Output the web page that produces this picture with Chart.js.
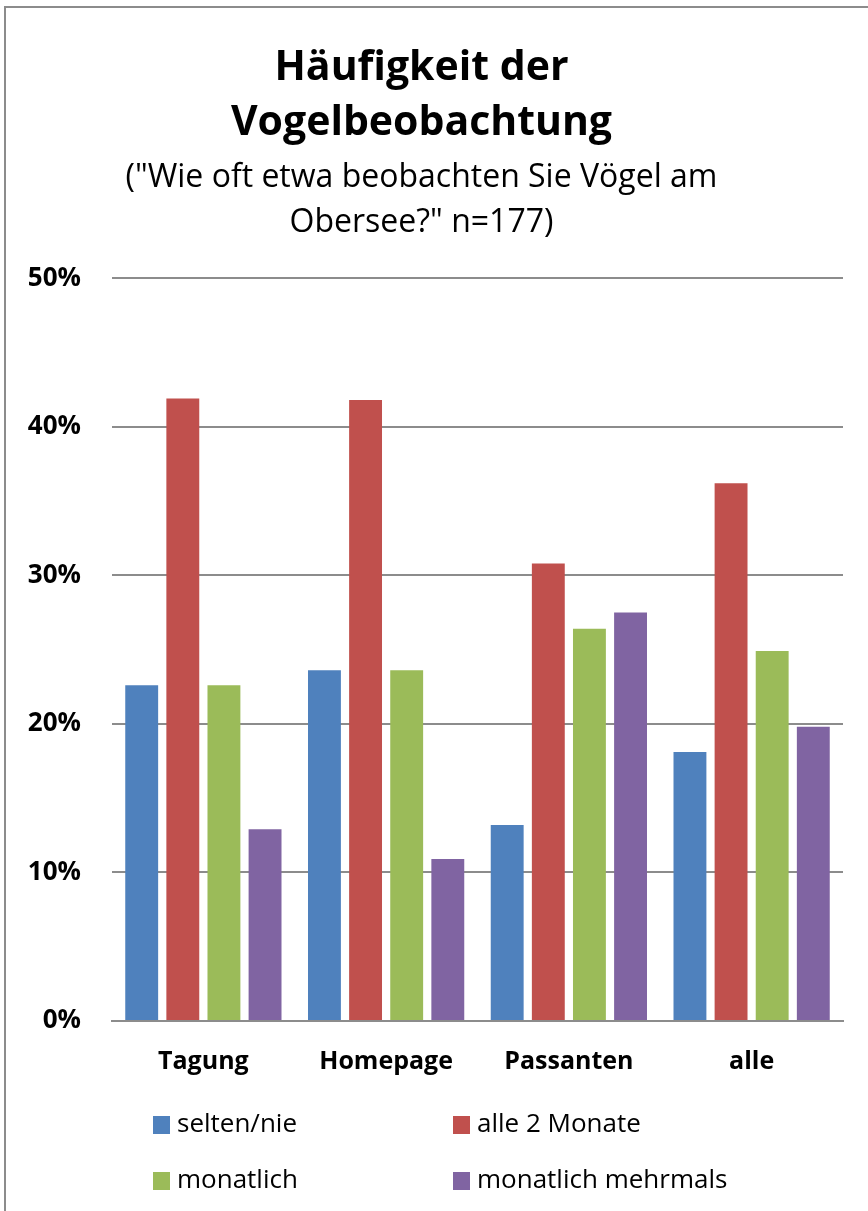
<!DOCTYPE html>
<html>
<head>
<meta charset="utf-8">
<script src="https://cdn.jsdelivr.net/npm/chart.js@4.4.1/dist/chart.umd.min.js"></script>
<style>
  html, body { margin: 0; padding: 0; background: #fff; }
  body { width: 868px; height: 1211px; position: relative; overflow: hidden; }
  .frame { position: absolute; left: 4px; top: 6px; width: 900px; height: 1300px; border: 2px solid #8c8c8c; box-sizing: border-box; }
  #wrap { position: absolute; left: 0; top: 0; width: 868px; height: 1211px; }
</style>
</head>
<body>
<div class="frame"></div>
<div id="wrap"><canvas id="chart" width="868" height="1211"></canvas></div>
<script>
// Survey groups and answer shares (percent of respondents)
const categories = ['Tagung', 'Homepage', 'Passanten', 'alle'];
const seriesNames = ['selten/nie', 'alle 2 Monate', 'monatlich', 'monatlich mehrmals'];
const seltenNie = [22.6, 23.6, 13.2, 18.1];
const alle2Monate = [41.9, 41.8, 30.8, 36.2];
const monatlich = [22.6, 23.6, 26.4, 24.9];
const monatlichMehrmals = [12.9, 10.9, 27.5, 19.8];
const yTicks = [0, 10, 20, 30, 40, 50];
const titleLines = ['Häufigkeit der', 'Vogelbeobachtung'];
const subtitleLines = ['("Wie oft etwa beobachten Sie Vögel am', 'Obersee?" n=177)'];

const colors = ['#4F81BD', '#C0504D', '#9BBB59', '#8064A2'];
const FONT = '"Open Sans", Lato, "DejaVu Sans", sans-serif';

const values = [seltenNie, alle2Monate, monatlich, monatlichMehrmals];

// Two-column legend below the axis labels
const gridLegend = {
  id: 'gridLegend',
  afterDraw(chart) {
    const ctx = chart.ctx;
    const colX = [153, 453];
    const rowY = [1125, 1181];
    ctx.save();
    ctx.font = '26px ' + FONT;
    ctx.textBaseline = 'middle';
    ctx.textAlign = 'left';
    chart.data.datasets.forEach((ds, i) => {
      const x = colX[i % 2];
      const y = rowY[Math.floor(i / 2)];
      ctx.fillStyle = ds.backgroundColor;
      ctx.fillRect(x, y - 9, 17, 18);
      ctx.fillStyle = '#000';
      ctx.fillText(ds.label, x + 24, y);
    });
    ctx.restore();
  }
};

new Chart(document.getElementById('chart'), {
  type: 'bar',
  data: {
    labels: categories,
    datasets: seriesNames.map((name, i) => ({
      label: name,
      data: values[i],
      backgroundColor: colors[i],
      borderWidth: 0,
      categoryPercentage: 0.9,
      barPercentage: 0.8
    }))
  },
  options: {
    responsive: false,
    animation: false,
    layout: { padding: { left: 0, right: 25, top: 0, bottom: 130 } },
    plugins: {
      legend: { display: false },
      tooltip: { enabled: false },
      title: {
        display: true,
        text: titleLines,
        color: '#000',
        font: { family: FONT, size: 41, weight: 'bold', lineHeight: 1.36 },
        padding: { top: 40, bottom: 1 }
      },
      subtitle: {
        display: true,
        text: subtitleLines,
        color: '#000',
        font: { family: FONT, size: 32, weight: 'normal', lineHeight: 1.4 },
        padding: { top: 3, bottom: 33 }
      }
    },
    scales: {
      x: {
        grid: { display: false, drawTicks: false },
        border: { display: true, color: '#8c8c8c', width: 2 },
        ticks: { color: '#000', font: { family: FONT, size: 25, weight: 'bold' }, padding: 26 },
        afterFit(scale) { scale.height = 60; }
      },
      y: {
        min: 0,
        max: 50,
        afterBuildTicks(scale) { scale.ticks = yTicks.map(v => ({ value: v })); },
        grid: { color: '#8c8c8c', lineWidth: 2, drawTicks: false },
        border: { display: false },
        ticks: {
          color: '#000',
          font: { family: FONT, size: 26, weight: 'bold' },
          padding: 31,
          callback: v => v + '%'
        },
        afterFit(scale) { scale.width = 112; }
      }
    }
  },
  plugins: [gridLegend]
});
</script>
</body>
</html>
